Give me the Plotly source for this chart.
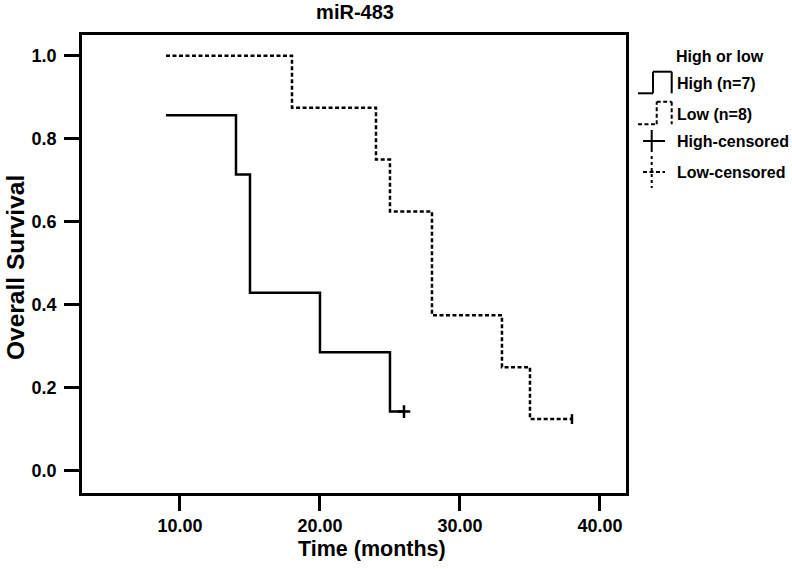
import plotly.graph_objects as go

# ---- data ----
high_time = [9, 14, 15, 20, 25, 26]
high_surv = [0.857, 0.714, 0.429, 0.286, 0.143, 0.143]
low_time = [9, 18, 24, 25, 28, 33, 35, 38]
low_surv = [1.0, 0.875, 0.75, 0.625, 0.375, 0.25, 0.125, 0.125]
high_cens_time = [26]
high_cens_surv = [0.143]
low_cens_time = [38]
low_cens_surv = [0.125]
x_ticks = [10, 20, 30, 40]
y_ticks = [0.0, 0.2, 0.4, 0.6, 0.8, 1.0]

W, H = 792, 569
L, R, T, B = 82, 626, 35, 493
FONT = "Liberation Sans"
DASH = "4px,2.5px"


def px(x):
    return (x - L) / (R - L)


def py(y):
    return (B - y) / (B - T)


fig = go.Figure()
fig.add_trace(go.Scatter(x=high_time, y=high_surv, mode="lines", line_shape="hv",
                         line=dict(color="black", width=2.5), showlegend=False))
fig.add_trace(go.Scatter(x=low_time, y=low_surv, mode="lines", line_shape="hv",
                         line=dict(color="black", width=2.5, dash=DASH), showlegend=False))
fig.add_trace(go.Scatter(x=high_cens_time, y=high_cens_surv, mode="markers",
                         marker=dict(symbol="cross-thin", size=9, line=dict(color="black", width=2.5)),
                         showlegend=False))
fig.add_trace(go.Scatter(x=low_cens_time, y=low_cens_surv, mode="markers",
                         marker=dict(symbol="line-ns", size=7, line=dict(color="black", width=2.5)),
                         showlegend=False))

shapes = []


def seg(x0, y0, x1, y1, dash="solid"):
    shapes.append(dict(type="line", xref="paper", yref="paper",
                       x0=px(x0), y0=py(y0), x1=px(x1), y1=py(y1),
                       line=dict(color="black", width=2, dash=dash)))


# legend symbols
seg(638, 93.3, 653, 93.3)
seg(653, 93.3, 653, 71.7)
seg(653, 71.7, 671.7, 71.7)
seg(671.7, 71.7, 671.7, 93.3)

seg(638, 124.3, 656.7, 124.3, DASH)
seg(656.7, 124.3, 656.7, 101.7, DASH)
seg(656.7, 101.7, 671.7, 101.7, DASH)
seg(671.7, 101.7, 671.7, 124.3, DASH)

seg(643, 141, 665, 141)
seg(651.7, 130, 651.7, 152)

seg(643, 172, 665, 172, DASH)
seg(651.7, 156, 651.7, 188, "dot")

annotations = []


def txt(x, y, s, anchor="left", size=16, angle=0):
    annotations.append(dict(xref="paper", yref="paper", x=px(x), y=py(y), text=s,
                            xanchor=anchor, yanchor="middle", showarrow=False, textangle=angle,
                            font=dict(family=FONT, size=size, color="black", weight="bold")))


txt(720, 56, "High or low", anchor="center")
txt(675, 83, "High (n=7)")
txt(675, 115, "Low (n=8)")
txt(675, 141, "High-censored")
txt(675, 172, "Low-censored")

# axis titles
txt(372, 549, "Time (months)", anchor="center", size=21.5)
txt(15, 268, "Overall Survival", anchor="center", size=24.5, angle=-90)

fig.update_layout(
    width=W, height=H,
    margin=dict(l=L, r=W - R, t=T, b=H - B, pad=0),
    paper_bgcolor="white", plot_bgcolor="white",
    title=dict(text="miR-483", x=px(355), xref="paper", xanchor="center",
               y=1 - 12 / H, yanchor="middle",
               font=dict(family=FONT, size=20, color="black", weight="bold")),
    shapes=shapes, annotations=annotations,
    showlegend=False,
)
fig.update_xaxes(range=[3, 41.86], tickvals=x_ticks, ticktext=[f"{v:.2f}" for v in x_ticks],
                 showline=True, linecolor="black", linewidth=2.5, mirror=True,
                 ticks="outside", ticklen=15, tickwidth=2.5, tickcolor="black",
                 showgrid=False, zeroline=False,
                 tickfont=dict(family=FONT, size=18, color="black", weight="bold"))
fig.update_yaxes(range=[-0.053, 1.05], tickvals=y_ticks, ticktext=[f"{v:.1f}" for v in y_ticks],
                 showline=True, linecolor="black", linewidth=2.5, mirror=True,
                 ticks="outside", ticklen=15, tickwidth=2.5, tickcolor="black",
                 showgrid=False, zeroline=False, ticklabelstandoff=4,
                 tickfont=dict(family=FONT, size=18, color="black", weight="bold"))

fig.write_html("out.html", config={"displayModeBar": False},
               post_script="document.body.style.margin='0px';document.body.style.padding='0px';")
